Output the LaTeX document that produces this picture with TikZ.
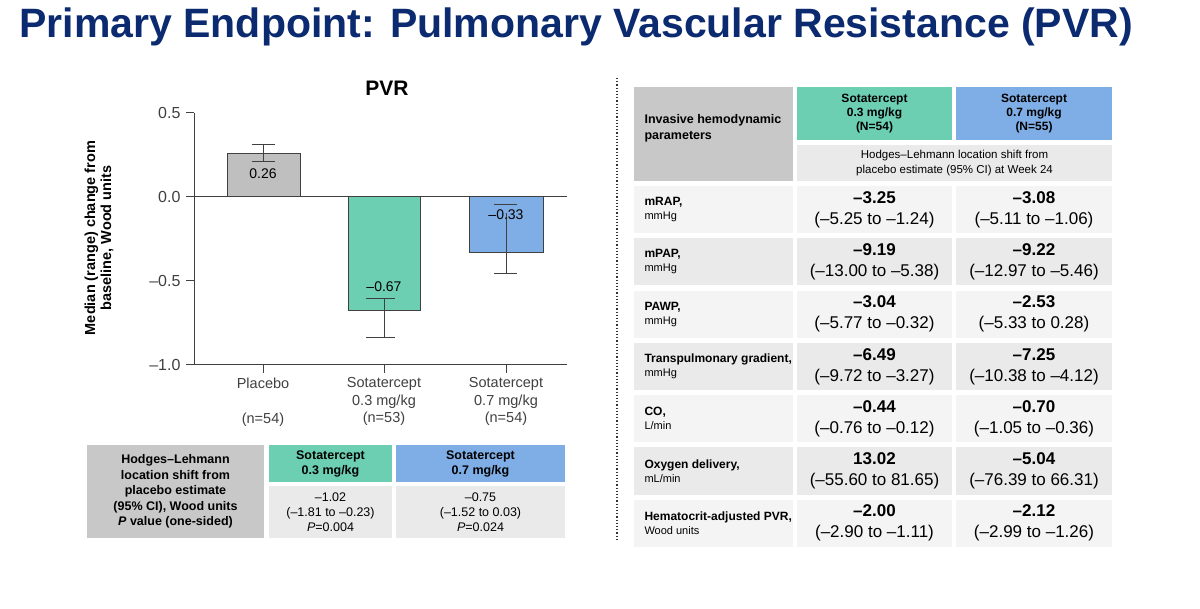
\documentclass[tikz,border=0pt]{standalone}
\usepackage{fontspec}
\setmainfont{Liberation Sans}
\definecolor{navy}{HTML}{0B2A70}
\definecolor{grn}{HTML}{6DCFB1}
\definecolor{blu}{HTML}{7FAEE6}
\definecolor{hdr}{HTML}{C8C8C8}
\definecolor{barg}{HTML}{BFBFBF}
\definecolor{rowa}{HTML}{F4F4F4}
\definecolor{rowb}{HTML}{EAEAEA}
\definecolor{axc}{HTML}{404040}
\begin{document}
\begin{tikzpicture}[x=1pt,y=-1pt,
  cell/.style={draw=none,inner sep=0pt},
  ax/.style={axc,line width=1pt},
  err/.style={axc,line width=1pt},
  tk/.style={font=\fontsize{16}{16}\selectfont,text=axc,anchor=east},
  xl/.style={font=\fontsize{14.5}{17.5}\selectfont,align=center,anchor=north,text=axc},
  val/.style={font=\fontsize{14}{14}\selectfont},
  big/.style={align=center,font=\fontsize{17}{21}\selectfont},
  lab/.style={anchor=west,align=left,font=\fontsize{11}{14}\selectfont}]
\useasboundingbox (0,0) rectangle (1200,609);
\fill[white] (0,0) rectangle (1200,609);
\node[anchor=west,text=navy,font=\bfseries\fontsize{41}{41}\selectfont] (title) at (16,27) {Primary Endpoint: Pulmonary Vascular Resistance (PVR)};
% chart
\node[font=\bfseries\fontsize{21}{21}\selectfont] (pvr) at (387,88) {PVR};
\fill[barg] (227,153) rectangle (300,197);
\draw[axc,line width=0.8pt] (227,197) -- (227,153) -- (300,153) -- (300,197);
\fill[grn] (348,197) rectangle (420,310);
\draw[axc,line width=0.8pt] (348,197) -- (348,310) -- (420,310) -- (420,197);
\fill[blu] (469,197) rectangle (543,252);
\draw[axc,line width=0.8pt] (469,197) -- (469,252) -- (543,252) -- (543,197);
\draw[err] (263,162) -- (263,145) (252,145) -- (275,145) (252,162) -- (275,162);
\draw[err] (384,299) -- (384,338) (366,299) -- (395,299) (366,338) -- (395,338);
\draw[err] (506,213) -- (506,274) (494,205) -- (517,205) (494,274) -- (517,274);
\node[val] (v1) at (263,174) {0.26};
\node[val] (v2) at (384,287) {–0.67};
\node[val] (v3) at (506,215) {–0.33};
\draw[ax] (194,113) -- (194,365) -- (567,365);
\draw[ax] (194,197) -- (567,197);
\foreach \yy/\t in {113/0.5,197/0.0,281/–0.5,365/–1.0}{
  \draw[ax] (186,\yy) -- (194,\yy);
  \node[tk] at (184,\yy) {\t};}
\foreach \xx in {263,384,506} \draw[ax] (\xx,365) -- (\xx,373);
\node[xl] (x1) at (263,374) {Placebo\\[18pt](n=54)};
\node[xl] (x2) at (384,374) {Sotatercept\\0.3 mg/kg\\(n=53)};
\node[xl] (x3) at (506,374) {Sotatercept\\0.7 mg/kg\\(n=54)};
\node[rotate=90,align=center,font=\bfseries\fontsize{14.5}{16}\selectfont] (ylab) at (99,238) {Median (range) change from\\baseline, Wood units};
% bottom-left table
\node[cell,fill=hdr,minimum width=177pt,minimum height=93pt,align=center,font=\bfseries\fontsize{12.5}{15.5}\selectfont] (hl) at (175.5,491.5) {Hodges–Lehmann\\location shift from\\placebo estimate\\(95\% CI), Wood units\\\textit{P} value (one-sided)};
\node[cell,fill=grn,minimum width=123pt,minimum height=37pt,align=center,font=\bfseries\fontsize{12.5}{15}\selectfont] (g1) at (330.5,463.5) {Sotatercept\\0.3 mg/kg};
\node[cell,fill=blu,minimum width=169pt,minimum height=37pt,align=center,font=\bfseries\fontsize{12.5}{15}\selectfont] (b1) at (480.5,463.5) {Sotatercept\\0.7 mg/kg};
\node[cell,fill=rowb,minimum width=123pt,minimum height=52pt,align=center,font=\fontsize{12.5}{15}\selectfont] (g2) at (330.5,512) {–1.02\\(–1.81 to –0.23)\\\textit{P}=0.004};
\node[cell,fill=rowb,minimum width=169pt,minimum height=52pt,align=center,font=\fontsize{12.5}{15}\selectfont] (b2) at (480.5,512) {–0.75\\(–1.52 to 0.03)\\\textit{P}=0.024};
% divider
\coordinate (d1) at (617,78); \coordinate (d2) at (617,540);
\draw[line width=1.2pt,dotted,black!80] (d1) -- (d2);
% right table header
\node[cell,fill=hdr,minimum width=159pt,minimum height=94pt] (rh) at (713.5,134) {};
\node[lab,font=\bfseries\fontsize{12.5}{16}\selectfont] (rht) at (641,128) {Invasive hemodynamic\\parameters};
\node[cell,fill=grn,minimum width=155pt,minimum height=53pt,align=center,font=\bfseries\fontsize{12}{14}\selectfont] (rg) at (874.5,113.5) {Sotatercept\\0.3 mg/kg\\(N=54)};
\node[cell,fill=blu,minimum width=156pt,minimum height=53pt,align=center,font=\bfseries\fontsize{12}{14}\selectfont] (rb) at (1034,113.5) {Sotatercept\\0.7 mg/kg\\(N=55)};
\node[cell,fill=rowb,minimum width=315pt,minimum height=36pt,align=center,font=\fontsize{11.5}{14.5}\selectfont] (rhl) at (954.5,163) {Hodges–Lehmann location shift from\\placebo estimate (95\% CI) at Week 24};
\foreach \i/\na/\nb/\ga/\gb/\ba/\bb in {
 0/{mRAP,}/{mmHg}/{–3.25}/{(–5.25 to –1.24)}/{–3.08}/{(–5.11 to –1.06)},
 1/{mPAP,}/{mmHg}/{–9.19}/{(–13.00 to –5.38)}/{–9.22}/{(–12.97 to –5.46)},
 2/{PAWP,}/{mmHg}/{–3.04}/{(–5.77 to –0.32)}/{–2.53}/{(–5.33 to 0.28)},
 3/{Transpulmonary gradient,}/{mmHg}/{–6.49}/{(–9.72 to –3.27)}/{–7.25}/{(–10.38 to –4.12)},
 4/{CO,}/{L/min}/{–0.44}/{(–0.76 to –0.12)}/{–0.70}/{(–1.05 to –0.36)},
 5/{Oxygen delivery,}/{mL/min}/{13.02}/{(–55.60 to 81.65)}/{–5.04}/{(–76.39 to 66.31)},
 6/{Hematocrit-adjusted PVR,}/{Wood units}/{–2.00}/{(–2.90 to –1.11)}/{–2.12}/{(–2.99 to –1.26)}}{
 \pgfmathsetmacro{\yc}{209.5+52.3*\i}
 \pgfmathtruncatemacro{\odd}{mod(\i,2)}
 \ifnum\odd=0 \def\rc{rowa}\else\def\rc{rowb}\fi
 \node[cell,fill=\rc,minimum width=159pt,minimum height=47pt] (ra\i) at (713.5,\yc) {};
 \node[lab] (rl\i) at (641,\yc) {{\bfseries\fontsize{12}{14}\selectfont\na}\\\nb};
 \node[cell,fill=\rc,minimum width=155pt,minimum height=47pt,big] (rv\i) at (874.5,\yc) {\textbf{\ga}\\\gb};
 \node[cell,fill=\rc,minimum width=156pt,minimum height=47pt,big] (rw\i) at (1034,\yc) {\textbf{\ba}\\\bb};
}
\end{tikzpicture}
\end{document}
